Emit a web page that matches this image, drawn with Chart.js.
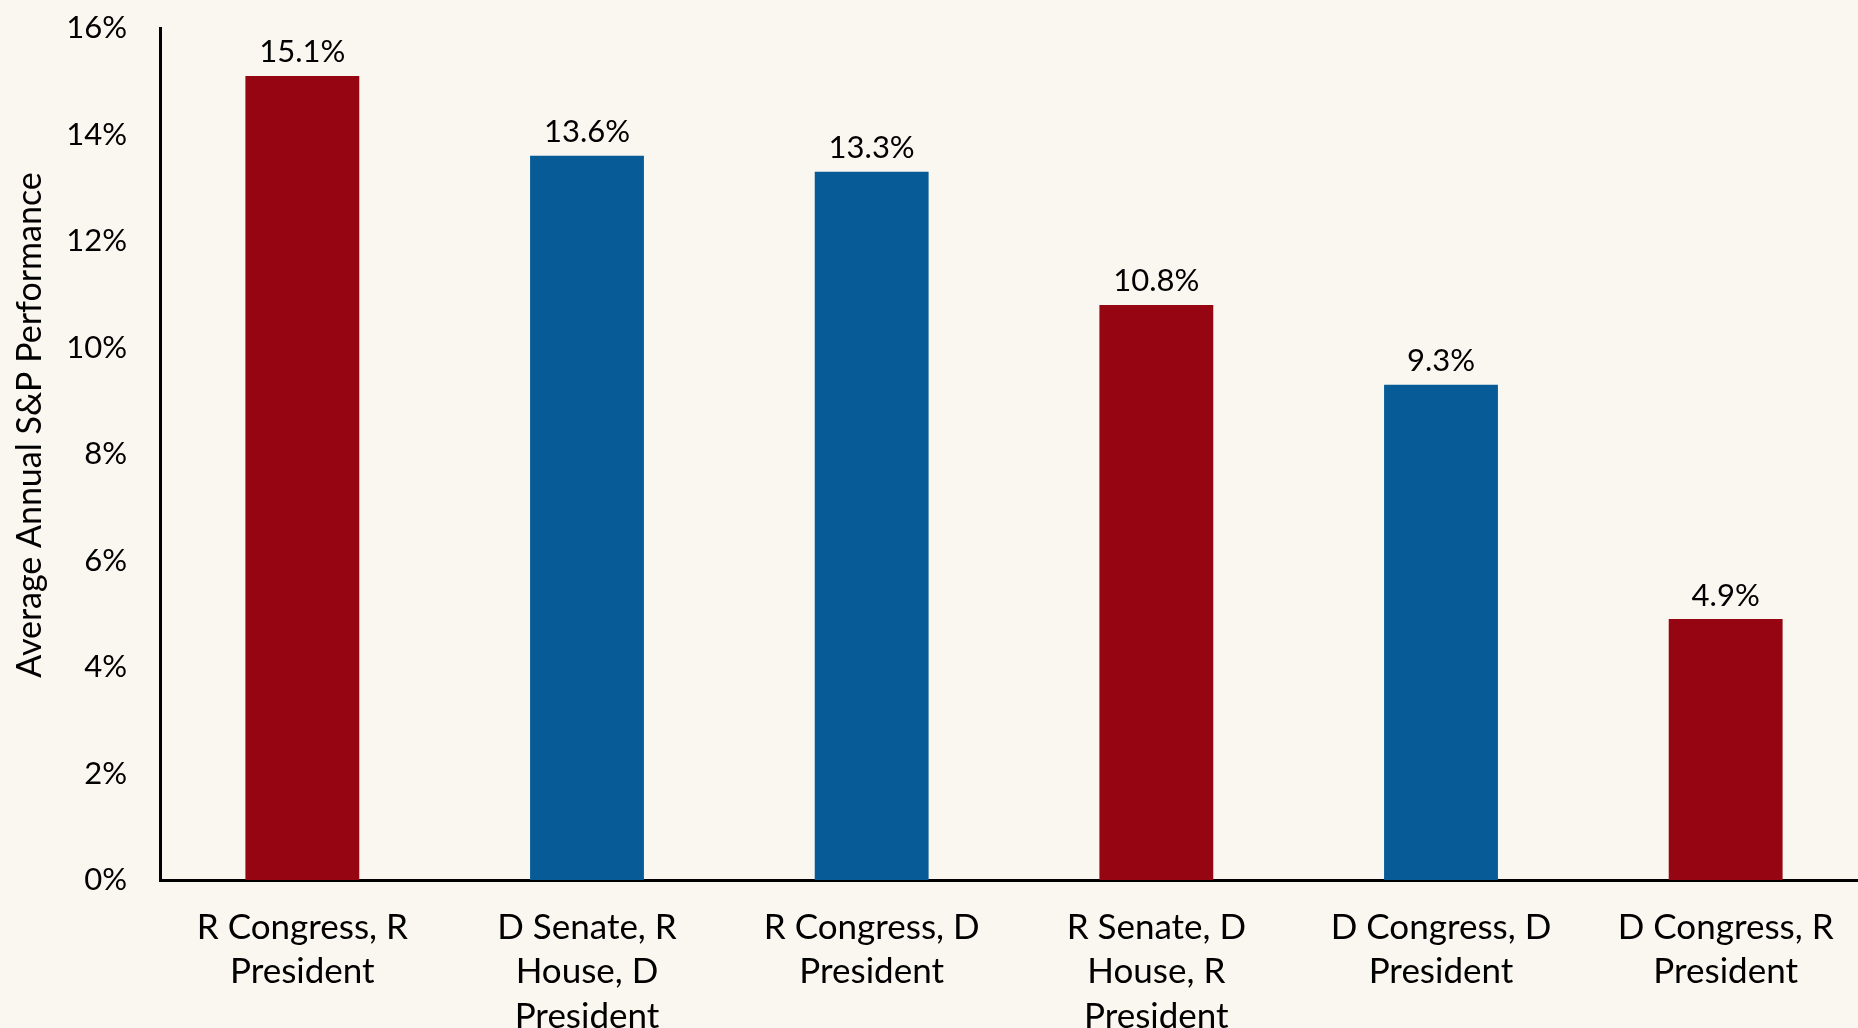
<!DOCTYPE html>
<html>
<head>
<meta charset="utf-8">
<script src="https://cdn.jsdelivr.net/npm/chart.js@4.4.0/dist/chart.umd.min.js"></script>
<style>
html, body { margin: 0; padding: 0; background: #faf7f0; overflow: hidden; }
#wrap { width: 1868px; height: 1028px; }
</style>
</head>
<body>
<div id="wrap"><canvas id="chart" width="1868" height="1028"></canvas></div>
<script>
const categories = [
    ['R Congress, R', 'President'],
    ['D Senate, R', 'House, D', 'President'],
    ['R Congress, D', 'President'],
    ['R Senate, D', 'House, R', 'President'],
    ['D Congress, D', 'President'],
    ['D Congress, R', 'President']
];
const performance = [15.1, 13.6, 13.3, 10.8, 9.3, 4.9];
const presidentParty = ['R', 'D', 'D', 'R', 'D', 'R'];
const yMax = 16;
const yStep = 2;
const yTitle = 'Average Annual S&P Performance';

const RED = '#960612';
const BLUE = '#075c98';
const FONT = 'Lato';

// value above each bar
const valueLabels = {
    id: 'valueLabels',
    afterDatasetsDraw(chart) {
        const ctx = chart.ctx;
        const meta = chart.getDatasetMeta(0);
        ctx.save();
        ctx.font = `31px ${FONT}`;
        ctx.fillStyle = '#000';
        ctx.textAlign = 'center';
        ctx.textBaseline = 'bottom';
        meta.data.forEach((bar, i) => {
            ctx.fillText(performance[i].toFixed(1) + '%', bar.x, bar.y - 8);
        });
        ctx.restore();
    }
};

// y axis title, centred a bit above the plot middle like the original
const axisTitle = {
    id: 'axisTitle',
    afterDraw(chart) {
        const ctx = chart.ctx;
        ctx.save();
        ctx.translate(30, 425);
        ctx.rotate(-Math.PI / 2);
        ctx.font = `34px ${FONT}`;
        ctx.fillStyle = '#000';
        ctx.textAlign = 'center';
        ctx.textBaseline = 'middle';
        ctx.fillText(yTitle, 0, 0);
        ctx.restore();
    }
};

new Chart(document.getElementById('chart'), {
    type: 'bar',
    data: {
        labels: categories,
        datasets: [{
            data: performance,
            backgroundColor: presidentParty.map(p => p === 'R' ? RED : BLUE),
            barPercentage: 0.4,
            categoryPercentage: 1
        }]
    },
    options: {
        responsive: false,
        animation: false,
        layout: { padding: { top: 28, left: 0, right: 0, bottom: 0 } },
        plugins: {
            legend: { display: false },
            tooltip: { enabled: false }
        },
        scales: {
            x: {
                grid: { display: false, drawTicks: false },
                border: { display: true, color: '#000', width: 3 },
                ticks: {
                    color: '#000',
                    font: { family: FONT, size: 35, lineHeight: 1.26 },
                    padding: 26,
                    maxRotation: 0,
                    minRotation: 0,
                    autoSkip: false
                },
                afterFit(scale) { scale.height = 148; }
            },
            y: {
                min: 0,
                max: yMax,
                grid: { display: false, drawTicks: false },
                border: { display: true, color: '#000', width: 3 },
                ticks: {
                    stepSize: yStep,
                    color: '#000',
                    font: { family: FONT, size: 31 },
                    padding: 33,
                    callback: v => v + '%'
                },
                afterFit(scale) {
                    scale.width = 160;
                    scale.paddingTop = 0;
                    scale.paddingBottom = 0;
                }
            }
        }
    },
    plugins: [valueLabels, axisTitle]
});
</script>
</body>
</html>
